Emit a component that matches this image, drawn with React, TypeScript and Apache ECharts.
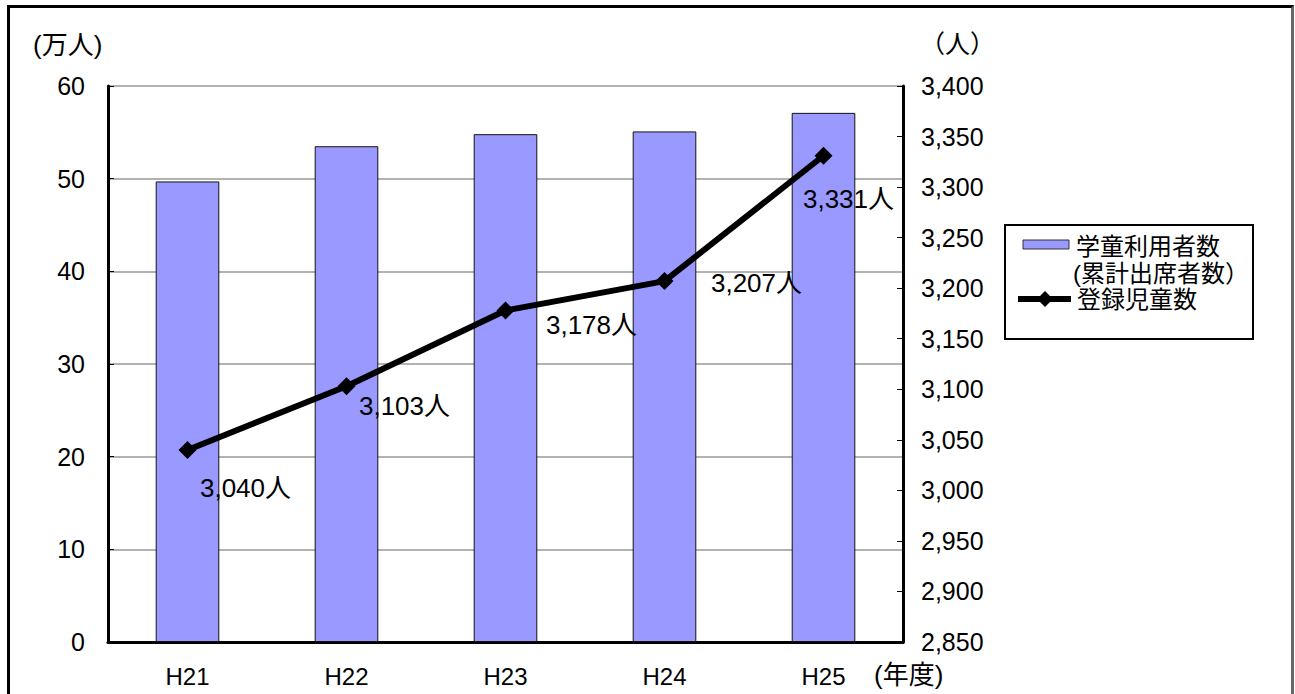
import React, { useEffect, useRef } from "react";
import * as echarts from "echarts";

const categories = ["H21", "H22", "H23", "H24", "H25"];
const usersManNin = [49.7, 53.5, 54.8, 55.1, 57.1];
const registeredChildren = [3040, 3103, 3178, 3207, 3331];
const leftTicks = { min: 0, max: 60, interval: 10 };
const rightTicks = { min: 2850, max: 3400, interval: 50 };
const barName = "学童利用者数";
const barNameSub = "(累計出席者数）";
const lineName = "登録児童数";

// label placement offsets (style, relative to each point)
const labelOffsets = [
  [58, 38],
  [58, 20],
  [86, 15],
  [92, 2],
  [25, 43],
];

const FONT = "'Liberation Sans', Arial, 'Noto Sans CJK JP', sans-serif";
const fmt = (v: number) => v.toLocaleString("en-US");

export default function App() {
  const ref = useRef<HTMLDivElement>(null);
  useEffect(() => {
    if (!ref.current) return;
    const chart = echarts.init(ref.current, undefined, { renderer: "svg" });
    const txt = { fontFamily: FONT, fontSize: 25, color: "#000" };
    chart.setOption({
      animation: false,
      backgroundColor: "#fff",
      grid: { left: 108, right: 392, top: 86, bottom: 52, containLabel: false },
      xAxis: {
        type: "category",
        data: categories,
        axisLine: { lineStyle: { color: "#000", width: 3 } },
        axisTick: { inside: true, length: 6, lineStyle: { color: "#000", width: 1 } },
        axisLabel: { ...txt, fontSize: 24, margin: 22 },
      },
      yAxis: [
        {
          type: "value",
          ...leftTicks,
          axisLine: { show: true, lineStyle: { color: "#000", width: 3 } },
          axisTick: { show: true, inside: true, length: 6, lineStyle: { color: "#000" } },
          axisLabel: { ...txt, margin: 23 },
          splitLine: { show: true, lineStyle: { color: "#999", width: 1.5 } },
        },
        {
          type: "value",
          ...rightTicks,
          axisLine: { show: true, lineStyle: { color: "#000", width: 3 } },
          axisTick: { show: true, inside: true, length: 6, lineStyle: { color: "#000" } },
          axisLabel: { ...txt, margin: 18, formatter: (v: number) => fmt(v) },
          splitLine: { show: false },
        },
      ],
      series: [
        {
          name: barName,
          type: "bar",
          yAxisIndex: 0,
          data: usersManNin,
          barWidth: "40%",
          itemStyle: { color: "#9999ff", borderColor: "#111", borderWidth: 1 },
        },
        {
          name: lineName,
          type: "line",
          yAxisIndex: 1,
          data: registeredChildren.map((v, i) => ({
            value: v,
            label: { offset: labelOffsets[i] },
          })),
          symbol: "diamond",
          symbolSize: 18,
          lineStyle: { color: "#000", width: 6 },
          itemStyle: { color: "#000" },
          label: {
            show: true,
            position: "inside",
            ...txt,
            fontSize: 26,
            formatter: (p: any) => fmt(p.value) + "人",
          },
          z: 5,
        },
      ],
      graphic: [
        { type: "text", left: 33, top: 32, style: { text: "(万人)", font: `26px ${FONT}`, fill: "#000" } },
        { type: "text", left: 920, top: 31, style: { text: "（人）", font: `25px ${FONT}`, fill: "#000" } },
        { type: "text", left: 874, top: 662, style: { text: "(年度)", font: `26px ${FONT}`, fill: "#000" } },
        {
          type: "group",
          left: 1004,
          top: 224,
          children: [
            { type: "rect", shape: { x: 0, y: 0, width: 248, height: 114 }, style: { fill: "#fff", stroke: "#000", lineWidth: 2 } },
            { type: "rect", shape: { x: 18, y: 15, width: 46, height: 9 }, style: { fill: "#9999ff", stroke: "#333", lineWidth: 1 } },
            { type: "text", x: 71, y: 21, style: { text: barName, font: `24px ${FONT}`, fill: "#000", verticalAlign: "middle" } },
            { type: "text", x: 68, y: 48, style: { text: barNameSub, font: `24px ${FONT}`, fill: "#000", verticalAlign: "middle" } },
            { type: "line", shape: { x1: 13, y1: 74, x2: 66, y2: 74 }, style: { stroke: "#000", lineWidth: 6 } },
            { type: "polygon", shape: { points: [[40, 66], [48, 74], [40, 82], [32, 74]] }, style: { fill: "#000" } },
            { type: "text", x: 72, y: 74, style: { text: lineName, font: `24px ${FONT}`, fill: "#000", verticalAlign: "middle" } },
          ],
        },
      ],
    });
    return () => chart.dispose();
  }, []);
  return (
    <div style={{ position: "absolute", left: 0, top: 0, width: 1295, height: 694, overflow: "hidden", background: "#fff" }}>
      <div ref={ref} style={{ position: "absolute", left: 0, top: 0, width: 1295, height: 694 }} />
      <div
        style={{
          position: "absolute",
          left: 7,
          top: 5,
          width: 1281,
          height: 720,
          borderTop: "3px solid #000",
          borderLeft: "3px solid #000",
          borderRight: "3px solid #666",
          pointerEvents: "none",
        }}
      />
    </div>
  );
}
